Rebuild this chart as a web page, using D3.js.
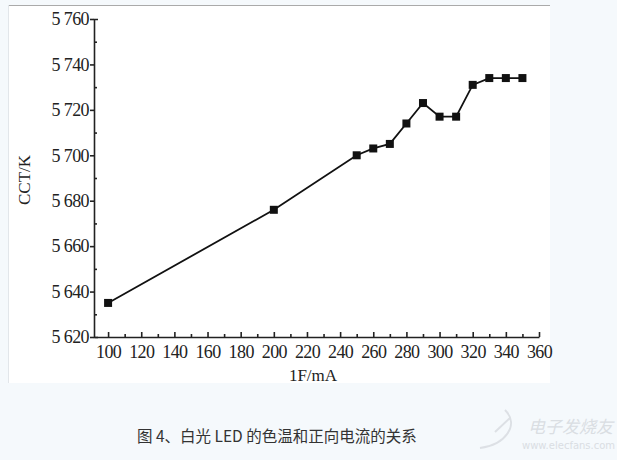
<!DOCTYPE html>
<html>
<head>
<meta charset="utf-8">
<script src="https://cdn.jsdelivr.net/npm/d3@7"></script>
<style>
  html, body { margin: 0; padding: 0; background: #f5f9fc; }
  #chart { width: 617px; height: 460px; }
  .axe text { font-family: "Liberation Serif", serif; font-size: 18px; letter-spacing: -0.6px; fill: #222; }
</style>
</head>
<body>
<div id="chart"></div>
<script>
// données
const courants = [100, 200, 250, 260, 270, 280, 290, 300, 310, 320, 330, 340, 350];
const tempCouleur = [5635, 5676, 5700, 5703, 5705, 5714, 5723, 5717, 5717, 5731, 5734, 5734, 5734];
const ticksX = [100, 120, 140, 160, 180, 200, 220, 240, 260, 280, 300, 320, 340, 360];
const ticksY = [5620, 5640, 5660, 5680, 5700, 5720, 5740, 5760];
const titreX = "1F/mA";
const titreY = "CCT/K";
const legende = "图 4、白光 LED 的色温和正向电流的关系";

const dados = courants.map((c, i) => ({ c, t: tempCouleur[i] }));

const svg = d3.select("#chart").append("svg")
    .attr("width", 617)
    .attr("height", 460);

// panneau blanc de l'image
svg.append("rect")
    .attr("x", 8).attr("y", 5)
    .attr("width", 542).attr("height", 378)
    .attr("fill", "#fff");
svg.append("line")
    .attr("x1", 8).attr("x2", 550).attr("y1", 5.5).attr("y2", 5.5)
    .attr("stroke", "#aaa");
svg.append("line")
    .attr("x1", 8.5).attr("x2", 8.5).attr("y1", 5).attr("y2", 383)
    .attr("stroke", "#e2e6ea");

const x = d3.scaleLinear().domain([91.5, 360]).range([94, 539]);
const y = d3.scaleLinear().domain([5620, 5760]).range([337, 19]);

const fmt = d3.formatLocale({ decimal: ".", thousands: " ", grouping: [3], currency: ["", ""] }).format(",");

const serif = "Liberation Serif";

// axe X
const gx = svg.append("g").attr("class", "axe").attr("transform", `translate(0,${y(5620)})`);
gx.call(d3.axisBottom(x).tickValues(ticksX).tickSize(-5).tickSizeOuter(0).tickPadding(8));
gx.append("g").call(d3.axisBottom(x).tickValues(d3.range(110, 360, 20)).tickSize(-3).tickFormat(""))
    .select(".domain").remove();

// axe Y
const gy = svg.append("g").attr("class", "axe").attr("transform", `translate(${x(91.5)},0)`);
gy.call(d3.axisLeft(y).tickValues(ticksY).tickSize(4).tickSizeOuter(-4).tickPadding(1).tickFormat(fmt));
gy.append("g").call(d3.axisLeft(y).tickValues(d3.range(5630, 5760, 20)).tickSize(-3).tickFormat(""))
    .select(".domain").remove();

svg.selectAll(".domain, .tick line").attr("stroke", "#222").attr("stroke-width", 1.6);
svg.selectAll(".axe, .axe g").attr("font-family", serif).attr("font-size", 18);

// titres des axes
svg.append("text")
    .attr("x", 313).attr("y", 381)
    .attr("text-anchor", "middle")
    .attr("font-family", serif).attr("font-size", "17px").attr("fill", "#222")
    .text(titreX);

svg.append("text")
    .attr("transform", "translate(30,180) rotate(-90)")
    .attr("text-anchor", "middle")
    .attr("font-family", serif).attr("font-size", "17px").attr("fill", "#222")
    .text(titreY);

// courbe
const ligne = d3.line().x(d => x(d.c)).y(d => y(d.t));
svg.append("path")
    .datum(dados)
    .attr("d", ligne)
    .attr("fill", "none")
    .attr("stroke", "#111")
    .attr("stroke-width", 1.8);

svg.selectAll("rect.pt")
    .data(dados)
    .enter()
    .append("rect")
    .attr("class", "pt")
    .attr("x", d => x(d.c) - 4)
    .attr("y", d => y(d.t) - 4)
    .attr("width", 8).attr("height", 8)
    .attr("fill", "#111");

// légende de la figure
svg.append("text")
    .attr("x", 137).attr("y", 442)
    .attr("font-family", "Noto Sans CJK SC")
    .attr("font-size", "15.5px")
    .attr("fill", "#333")
    .text(legende);

// filigrane
const wm = svg.append("g").attr("opacity", 0.55);
wm.append("path")
    .attr("d", "M505,410 C520,425 505,445 480,448 M495,432 L510,418")
    .attr("fill", "none").attr("stroke", "#c8ccd2").attr("stroke-width", 2);
wm.append("text")
    .attr("x", 528).attr("y", 433)
    .attr("font-family", "Noto Sans CJK SC")
    .attr("font-size", "17px").attr("font-style", "italic")
    .attr("fill", "#c4c8ce")
    .text("电子发烧友");
wm.append("text")
    .attr("x", 522).attr("y", 449)
    .attr("font-family", "DejaVu Sans")
    .attr("font-size", "10px")
    .attr("fill", "#c4c8ce")
    .text("www.elecfans.com");
</script>
</body>
</html>
